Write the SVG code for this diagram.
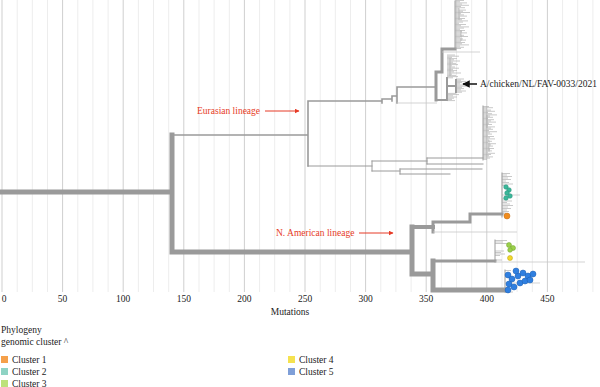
<svg xmlns="http://www.w3.org/2000/svg" width="600" height="387" viewBox="0 0 600 387">
<style>
.gM{stroke:#cfcfcf;stroke-width:1}
.gm{stroke:#ededed;stroke-width:1}
.br{stroke:#9a9a9a;fill:none;stroke-linecap:square}
.tip{stroke:#a4a4a4;stroke-width:0.6;fill:none}
.lt{stroke:#c8c8c8;stroke-width:0.8;fill:none}
.t{font-family:"Liberation Serif","DejaVu Serif",serif;font-size:9.5px;fill:#222}
.red{fill:#e63b26}
.ax{text-anchor:middle}
</style>
<defs>
<marker id="ar" viewBox="0 0 10 10" refX="9" refY="5" markerWidth="5" markerHeight="5" orient="auto"><path d="M0,0 L10,5 L0,10 z" fill="#e63b26"/></marker>
<marker id="ak" viewBox="0 0 10 10" refX="9" refY="5" markerWidth="5" markerHeight="5" orient="auto"><path d="M0,0 L10,5 L0,10 z" fill="#111"/></marker>
</defs>
<g id="grid">
<path class="gm" d="M17.2,0V292M32.3,0V292M47.5,0V292M77.8,0V292M92.9,0V292M108.1,0V292M138.4,0V292M153.5,0V292M168.7,0V292M199,0V292M214.1,0V292M229.3,0V292M259.6,0V292M274.7,0V292M289.9,0V292M320.2,0V292M335.3,0V292M350.5,0V292M380.8,0V292M395.9,0V292M411.1,0V292M441.4,0V292M456.5,0V292M471.7,0V292M502,0V292M517.1,0V292M532.3,0V292M562.6,0V292M577.7,0V292M592.9,0V292"/>
<path class="gM" d="M2,0V292M62.6,0V292M123.2,0V292M183.8,0V292M244.4,0V292M305,0V292M365.6,0V292M426.2,0V292M486.8,0V292M547.4,0V292"/>
</g>
<g id="axis" class="t ax">
<text x="4" y="302">0</text><text x="62.6" y="302">50</text><text x="123.2" y="302">100</text><text x="183.8" y="302">150</text><text x="244.4" y="302">200</text><text x="305" y="302">250</text><text x="365.6" y="302">300</text><text x="426.2" y="302">350</text><text x="486.8" y="302">400</text><text x="547.4" y="302">450</text>
<text x="290" y="315">Mutations</text>
</g>
<g id="tree">
<path class="br" stroke-width="5" d="M2,192H172M172,135V252M172,252H412M412,227V274M412,274H433M433,261V290M433,290H505"/>
<path class="br" stroke-width="4" d="M412,227H433"/>
<path class="br" stroke-width="3" d="M433,222V232M433,222H470M470,214V222M470,214H502M433,261H495"/>
<path class="br" stroke-width="1.6" d="M172,135H308M308,101V166M308,101H382M382,99V103M382,99H392M392,96V101M392,96H397M397,87V103M397,87H436"/>
<path class="br" stroke-width="3" d="M436,72V100M436,72H442M442,49V72M442,49H455"/>
<path class="br" stroke-width="2" d="M436,100H447M447,78V100M447,86H456M456,80V92"/>
<path class="lt" d="M397,103H437M442,52H480M433,232H517M495,262H585M502,195H520M505,283H540"/>
<path class="br" stroke-width="1" d="M308,166H372M372,161V171M372,161H427M427,158V164M427,158H483M483,106V160M427,164H483M372,171H400M400,169V174M400,169H482M400,174H450M502,173V217M495,240V262M505,270V292M455,1V49"/>
<path class="tip" d="M459,8V20M461,30V41M450,58V76M487,115V128M489,140V152
M455,0.5h9M455,1.7h5M455,2.9h12M455,4.1h7M455,5.3h14M455,6.5h6M455,7.7h10M455,8.9h4M455,10.1h11M455,11.3h8M455,12.5h15M455,13.7h6M455,14.9h9M455,16.1h12M455,17.3h5M455,18.5h10M455,19.7h7M455,20.9h13M455,22.1h8M455,23.3h4M455,24.5h11M455,25.7h6M455,26.9h14M455,28.1h9M455,29.3h5M455,30.5h10M455,31.7h7M455,32.9h12M455,34.1h6M455,35.3h9M455,36.5h13M455,37.7h5M455,38.9h8M455,40.1h11M455,41.3h6M455,42.5h10M455,43.7h7M455,44.9h14M455,46.1h5M455,47.3h9M455,48.5h6
M447,55h8M447,56.2h12M447,57.4h5M447,58.6h10M447,59.8h7M447,61h13M447,62.2h6M447,63.4h9M447,64.6h11M447,65.8h5M447,67h8M447,68.2h12M447,69.4h6M447,70.6h10M447,71.8h7M447,73h14M447,74.2h5M447,75.4h9M447,76.6h11M447,77.8h6M456,79h8M456,80.2h5M456,81.4h10M456,82.6h6M456,83.8h4M456,85h9M456,86.2h12M456,87.4h6M456,88.6h8M456,89.8h5M456,91h10M456,92.2h6M447,93.4h9M447,94.6h12M447,95.8h6M447,97h10M447,98.2h7M447,99.4h5M447,100.6h8
M483,106.5h6M483,107.7h10M483,108.9h4M483,110.1h8M483,111.3h12M483,112.5h5M483,113.7h9M483,114.9h14M483,116.1h7M483,117.3h10M483,118.5h5M483,119.7h11M483,120.9h8M483,122.1h13M483,123.3h6M483,124.5h9M483,125.7h5M483,126.9h12M483,128.1h8M483,129.3h10M483,130.5h6M483,131.7h14M483,132.9h7M483,134.1h9M483,135.3h5M483,136.5h11M483,137.7h7M483,138.9h12M483,140.1h6M483,141.3h9M483,142.5h5M483,143.7h13M483,144.9h8M483,146.1h10M483,147.3h6M483,148.5h11M483,149.7h7M483,150.9h9M483,152.1h5M483,153.3h12M483,154.5h8M483,155.7h6M483,156.9h10M483,158.1h7M483,159.3h4
M502,173.5h8M502,175h5M502,176.5h10M502,178h6M502,179.5h9M502,181h4M502,182.5h7M502,184h11M502,185.5h5M502,199h6M502,201h10M502,202.5h5M502,204h8M502,205.5h11M502,207h6M502,208.5h9M502,210h5M502,211.5h7M502,213h4
M495,240.5h12M495,242h8M495,243.5h14M495,251h9M495,252.5h6M495,254h10M495,255.5h5M495,260h7
M505,270.5h6M505,292h8"/>
</g>
<g id="clusters">
<g fill="#3bb89a" stroke="#2a8f78" stroke-width="0.5"><circle cx="506" cy="187" r="2.3"/><circle cx="509" cy="190" r="2.3"/><circle cx="507" cy="193" r="2.3"/><circle cx="510" cy="196" r="2.3"/><circle cx="506" cy="198" r="2.3"/></g>
<circle cx="507" cy="216" r="3" fill="#f08c1e" stroke="#c06a10" stroke-width="0.5"/>
<g fill="#9bd04a" stroke="#6fa02a" stroke-width="0.5"><circle cx="509" cy="245" r="2.5"/><circle cx="513" cy="248" r="2.5"/><circle cx="510" cy="250" r="2.3"/></g>
<circle cx="510" cy="258" r="2.5" fill="#f2d82c" stroke="#b8a010" stroke-width="0.5"/>
<g fill="#2f7fe0" stroke="#1d5fb0" stroke-width="0.5"><circle cx="508" cy="275" r="3"/><circle cx="512" cy="279" r="3"/><circle cx="518" cy="276" r="3"/><circle cx="523" cy="273" r="3"/><circle cx="528" cy="276" r="3"/><circle cx="533" cy="274" r="3"/><circle cx="509" cy="284" r="3"/><circle cx="514" cy="287" r="3"/><circle cx="508" cy="290" r="3"/><circle cx="520" cy="283" r="3"/><circle cx="525" cy="281" r="3"/><circle cx="516" cy="271" r="3"/><circle cx="530" cy="280" r="3"/></g>
</g>
<g id="annotations">
<text class="t red" x="197" y="114">Eurasian lineage</text>
<path d="M265,111H299" stroke="#e63b26" stroke-width="1" marker-end="url(#ar)"/>
<text class="t red" x="276" y="236">N. American lineage</text>
<path d="M359,233H393" stroke="#e63b26" stroke-width="1" marker-end="url(#ar)"/>
<text class="t" x="480" y="87">A/chicken/NL/FAV-0033/2021</text>
<path d="M477,84H463" stroke="#111" stroke-width="1.5" marker-end="url(#ak)"/>
</g>
<g id="legend" class="t">
<text x="1" y="333">Phylogeny</text>
<text x="1" y="345">genomic cluster ^</text>
<rect x="1" y="356" width="7" height="7" fill="#f5a04a"/><text x="12" y="362.5">Cluster 1</text>
<rect x="1" y="368" width="7" height="7" fill="#8fd3c4"/><text x="12" y="374.5">Cluster 2</text>
<rect x="1" y="380" width="7" height="7" fill="#bde27a"/><text x="12" y="386.5">Cluster 3</text>
<rect x="288" y="356" width="7" height="7" fill="#f5e24f"/><text x="299" y="362.5">Cluster 4</text>
<rect x="288" y="368" width="7" height="7" fill="#7f9fd8"/><text x="299" y="374.5">Cluster 5</text>
</g>
</svg>
